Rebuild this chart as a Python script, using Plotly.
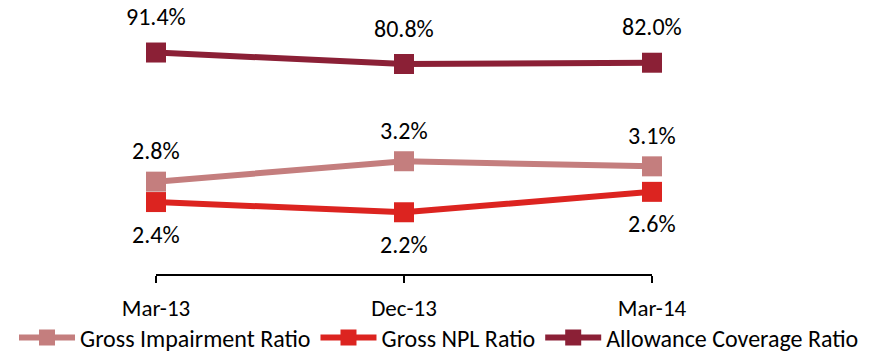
import plotly.graph_objects as go

# Asset quality ratios by period
periods = ["Mar-13", "Dec-13", "Mar-14"]
gross_impairment = [2.8, 3.2, 3.1]
gross_npl = [2.4, 2.2, 2.6]
allowance_coverage = [91.4, 80.8, 82.0]

FONT = "Carlito, Lato, 'Open Sans', sans-serif"
C_IMP = "#C47E7E"
C_NPL = "#DC2420"
C_ALW = "#8B2036"

W, H = 878, 355

fig = go.Figure()

fig.add_trace(go.Scatter(
    x=periods, y=gross_impairment, name="Gross Impairment Ratio",
    mode="lines+markers", line=dict(color=C_IMP, width=6),
    marker=dict(symbol="square", size=20, color=C_IMP),
    cliponaxis=False, yaxis="y"))
fig.add_trace(go.Scatter(
    x=periods, y=gross_npl, name="Gross NPL Ratio",
    mode="lines+markers", line=dict(color=C_NPL, width=6),
    marker=dict(symbol="square", size=20, color=C_NPL),
    cliponaxis=False, yaxis="y"))
fig.add_trace(go.Scatter(
    x=periods, y=allowance_coverage, name="Allowance Coverage Ratio",
    mode="lines+markers", line=dict(color=C_ALW, width=6),
    marker=dict(symbol="square", size=20, color=C_ALW),
    cliponaxis=False, yaxis="y2"))

# Value labels: impairment and coverage above, NPL below
LABEL_FONT = dict(size=24, color="#000", family=FONT)
annotations = []
for p, v in zip(periods, gross_impairment):
    annotations.append(dict(x=p, y=v, yref="y", text=f"{v:.1f}%", showarrow=False,
                            yshift=31, font=LABEL_FONT))
for p, v in zip(periods, gross_npl):
    annotations.append(dict(x=p, y=v, yref="y", text=f"{v:.1f}%", showarrow=False,
                            yshift=-32, font=LABEL_FONT))
for p, v in zip(periods, allowance_coverage):
    annotations.append(dict(x=p, y=v, yref="y2", text=f"{v:.1f}%", showarrow=False,
                            yshift=36, font=LABEL_FONT))

fig.update_layout(
    width=W, height=H,
    margin=dict(l=0, r=0, t=0, b=81, autoexpand=False),
    paper_bgcolor="white", plot_bgcolor="white",
    font=dict(family=FONT, size=22, color="#000"),
    showlegend=True,
    legend=dict(orientation="h", xref="container", yref="container",
                x=0.5, xanchor="center", y=1 - 338 / H, yanchor="middle",
                font=dict(size=24, family=FONT), itemwidth=56,
                tracegroupgap=0, bgcolor="rgba(0,0,0,0)"),
    xaxis=dict(type="category", range=[0, 2], domain=[156 / W, 652 / W],
               showgrid=False, zeroline=False,
               showline=True, linecolor="#000", linewidth=2,
               ticks="outside", ticklen=7, tickwidth=2, tickcolor="#000",
               ticklabelstandoff=5, tickfont=dict(size=23, family=FONT)),
    yaxis=dict(range=[0.99, 6.36], visible=False, showgrid=False, zeroline=False),
    yaxis2=dict(range=[-112.7, 139.8], overlaying="y", side="right",
                visible=False, showgrid=False, zeroline=False),
    annotations=annotations,
)

fig.write_html("out.html")
